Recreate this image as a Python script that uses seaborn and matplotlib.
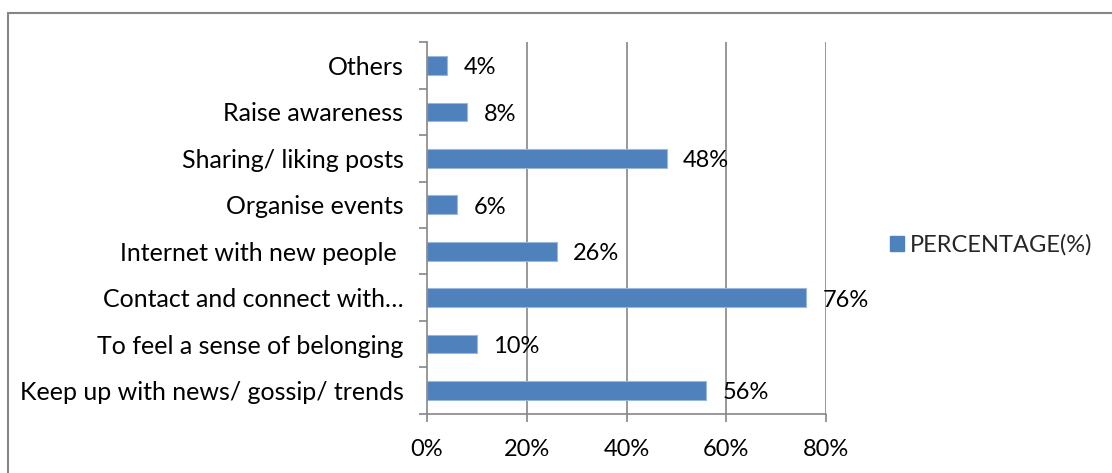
import matplotlib
matplotlib.use("Agg")
import matplotlib.pyplot as plt
from matplotlib.lines import Line2D
from matplotlib.patches import Patch
from matplotlib.ticker import FixedLocator
import seaborn as sns
import pandas as pd
import numpy as np

categories = [
    "Others",
    "Raise awareness",
    "Sharing/ liking posts",
    "Organise events",
    "Internet with new people ",
    "Contact and connect with\u2026",
    "To feel a sense of belonging",
    "Keep up with news/ gossip/ trends",
]
values = [4, 8, 48, 6, 26, 76, 10, 56]
x_ticks = [0, 20, 40, 60, 80]
series_name = "PERCENTAGE(%)"

bar_color = "#4F81BD"
grid_color = "#868686"

sns.set_theme(style="white")
plt.rcParams["font.family"] = ["Lato", "DejaVu Sans"]

df = pd.DataFrame({"category": categories, "value": values})

fig = plt.figure(figsize=(11.12, 4.73), dpi=100)
ax = fig.add_axes([0.384, 0.125, 0.359, 0.786])

sns.barplot(data=df, y="category", x="value", orient="h", color=bar_color,
            saturation=1, width=0.4, edgecolor="#9BB7D9", linewidth=0.8, ax=ax)

ax.set_xlim(0, 80)
ax.set_ylim(len(categories) - 0.5, -0.5)
ax.xaxis.set_major_locator(FixedLocator(x_ticks))
ax.set_xticklabels([f"{t}%" for t in x_ticks])
ax.set_xlabel("")
ax.set_ylabel("")

# vertical gridlines
for t in x_ticks[1:]:
    ax.axvline(t, color=grid_color, lw=1.2, zorder=0)

for s in ["top", "right", "bottom"]:
    ax.spines[s].set_visible(False)
ax.spines["left"].set_color(grid_color)
ax.spines["left"].set_linewidth(1.2)

# category labels without ticks; boundary ticks as minor ticks
ax.tick_params(axis="y", which="major", length=0, pad=17, labelsize=18, labelcolor="black")
ax.set_yticks(np.arange(-0.5, len(categories), 1), minor=True)
ax.tick_params(axis="y", which="minor", length=6, width=1.2, color=grid_color, left=True)
ax.tick_params(axis="x", which="major", length=6, width=1.2, color=grid_color,
               bottom=True, labelsize=17, labelcolor="black", pad=12)

# bottom axis line
ax.axhline(len(categories) - 0.5, color=grid_color, lw=1.2, clip_on=False)

# value labels
for i, v in enumerate(values):
    ax.text(v + 3.3, i + 0.05, f"{v}%", va="center", ha="left", fontsize=17, color="black")

# legend
handle = Patch(facecolor=bar_color, edgecolor=bar_color)
fig.legend([handle], [series_name], loc="center left", bbox_to_anchor=(0.792, 0.482),
           frameon=False, fontsize=17, handlelength=0.6, handleheight=0.6,
           handletextpad=0.25, borderaxespad=0)

# outer chart border
fig.add_artist(Line2D([8 / 1112, 8 / 1112], [0, 1 - 13 / 473], color="#868686", lw=1.5))
fig.add_artist(Line2D([8 / 1112, 1], [1 - 13 / 473, 1 - 13 / 473], color="#868686", lw=1.5))

fig.savefig("out.png", dpi=100, facecolor="white")
